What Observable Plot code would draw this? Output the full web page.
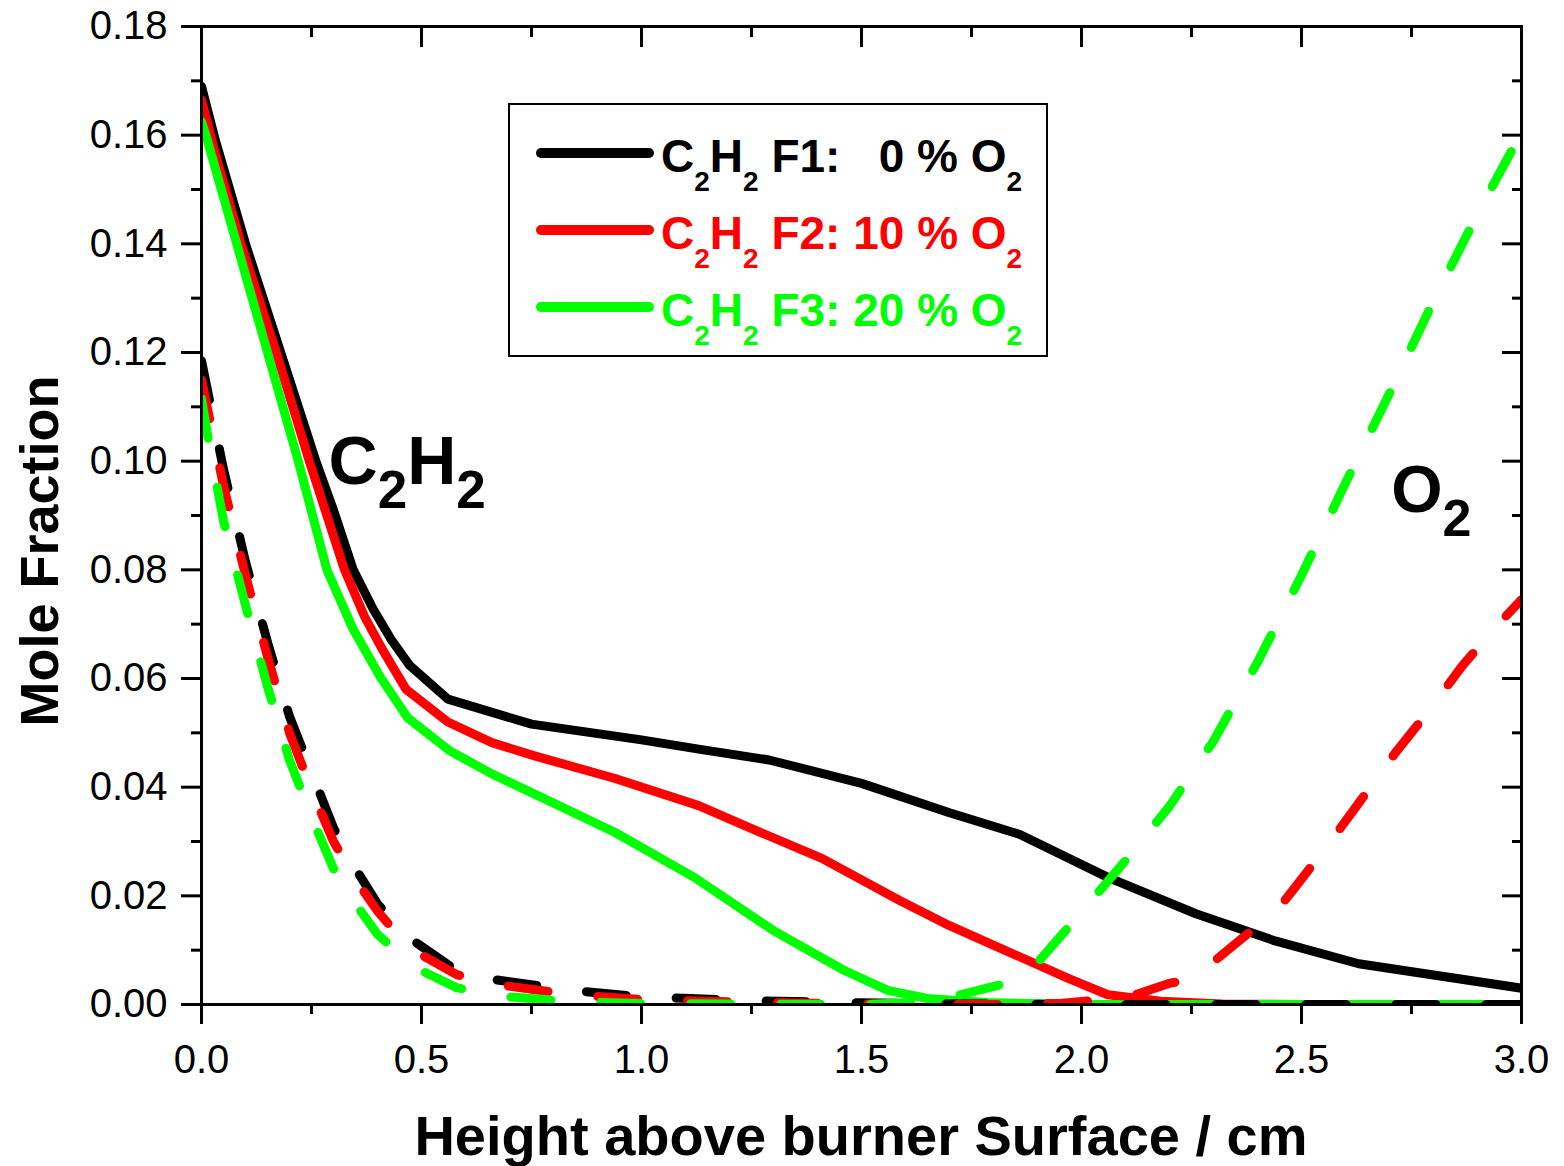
<!DOCTYPE html>
<html>
<head>
<meta charset="utf-8">
<script src="https://cdn.jsdelivr.net/npm/d3@7"></script>
<script src="https://cdn.jsdelivr.net/npm/@observablehq/plot@0.6"></script>
<style>
  html, body { margin: 0; padding: 0; background: #ffffff; }
  #chart svg { display: block; }
</style>
</head>
<body>
<div id="chart"></div>
<script>
// ---------- data: [height (cm), mole fraction] ----------
const c2h2F1 = [[0,0.169],[0.03,0.1595],[0.10,0.140],[0.18,0.120],[0.26,0.100],[0.30,0.091],[0.345,0.080],[0.39,0.0728],[0.43,0.0673],[0.473,0.0624],[0.56,0.0562],[0.75,0.0516],[1.0,0.0487],[1.13,0.0470],[1.29,0.0450],[1.5,0.0407],[1.70,0.0353],[1.86,0.0313],[2.06,0.0234],[2.26,0.0167],[2.44,0.0117],[2.63,0.0075],[3.0,0.003]];
const c2h2F2 = [[0,0.1665],[0.03,0.157],[0.09,0.140],[0.17,0.120],[0.245,0.100],[0.285,0.090],[0.325,0.080],[0.37,0.0715],[0.41,0.0655],[0.465,0.058],[0.56,0.052],[0.66,0.0482],[0.755,0.0458],[0.94,0.0416],[1.13,0.0366],[1.27,0.0317],[1.41,0.0269],[1.59,0.019],[1.69,0.0149],[1.82,0.0102],[1.97,0.0048],[2.06,0.0018],[2.18,0.0006],[2.32,0.0001],[2.5,0],[3.0,0]];
const c2h2F3 = [[0,0.1625],[0.01,0.160],[0.08,0.140],[0.15,0.120],[0.22,0.100],[0.285,0.080],[0.345,0.069],[0.407,0.0602],[0.468,0.0528],[0.564,0.0467],[0.659,0.0425],[0.755,0.0388],[0.939,0.0317],[1.12,0.0234],[1.30,0.0136],[1.46,0.0063],[1.56,0.0026],[1.65,0.0011],[1.8,0.0003],[2.0,0],[3.0,0]];
const o2F1 = [[0,0.1185],[0.05,0.0985],[0.10,0.0815],[0.15,0.0667],[0.20,0.053],[0.25,0.0428],[0.30,0.0325],[0.35,0.025],[0.40,0.0185],[0.468,0.0125],[0.573,0.0066],[0.664,0.0046],[0.84,0.0026],[1.0,0.0014],[1.25,0.0007],[1.5,0.0003],[1.75,0.0001],[2.0,0],[3.0,0]];
const o2F2 = [[0,0.115],[0.05,0.0955],[0.10,0.079],[0.15,0.064],[0.20,0.050],[0.25,0.0395],[0.30,0.030],[0.35,0.023],[0.40,0.0172],[0.47,0.0105],[0.58,0.0055],[0.66,0.0038],[0.84,0.0018],[1.0,0.0009],[1.25,0.0004],[1.5,0.0001],[1.8,0],[1.95,0.0002],[2.1,0.0012],[2.2,0.0039],[2.255,0.0048],[2.29,0.0072],[2.4,0.0145],[2.44,0.0169],[2.48,0.021],[2.566,0.030],[2.634,0.0375],[2.714,0.0464],[2.786,0.0537],[2.866,0.0624],[2.945,0.0698],[3.0,0.0745]];
const o2F3 = [[0,0.1115],[0.016,0.1038],[0.05,0.089],[0.10,0.0735],[0.15,0.0585],[0.20,0.045],[0.25,0.0345],[0.30,0.025],[0.35,0.0185],[0.40,0.0129],[0.49,0.0066],[0.58,0.0031],[0.68,0.0015],[0.85,0.0005],[1.0,0.0002],[1.2,0.0001],[1.5,0],[1.6,0.0003],[1.7,0.0013],[1.81,0.0035],[1.88,0.0057],[1.9,0.0077],[2.0,0.0170],[2.1,0.0265],[2.2,0.0365],[2.3,0.0485],[2.4,0.063],[2.5,0.079],[2.6,0.096],[2.7,0.1125],[2.8,0.1295],[2.9,0.1455],[3.0,0.1605]];

const xMajorTicks = [0, 0.5, 1.0, 1.5, 2.0, 2.5, 3.0];
const xMinorTicks = [0.25, 0.75, 1.25, 1.75, 2.25, 2.75];
const yMajorTicks = [0, 0.02, 0.04, 0.06, 0.08, 0.10, 0.12, 0.14, 0.16, 0.18];
const yMinorTicks = [0.01, 0.03, 0.05, 0.07, 0.09, 0.11, 0.13, 0.15, 0.17];

const seriesColors = ["#000000", "#ff0000", "#00ff00"];
const flameNames = [" F1:   0 % O", " F2: 10 % O", " F3: 20 % O"];
const xTitle = "Height above burner Surface / cm";
const yTitle = "Mole Fraction";
// annotation labels: text parts (sub = subscript) and anchor in data units
const annotC2H2 = {parts: [["C",0],["2",1],["H",0],["2",1]], x: 0.29, y: 0.0957};
const annotO2 = {parts: [["O",0],["2",1]], x: 2.705, y: 0.0905};

// ---------- chart ----------
const font = "'Liberation Sans', Arial, Helvetica, sans-serif";
const solidSeries = [c2h2F1, c2h2F2, c2h2F3];
const dashedSeries = [o2F1, o2F2, o2F3];

const lineMarks = [];
solidSeries.forEach((s, i) => lineMarks.push(Plot.line(s, {
  x: d => d[0], y: d => d[1], stroke: seriesColors[i], strokeWidth: 9,
  strokeLinecap: "round", strokeLinejoin: "round", clip: true
})));
dashedSeries.forEach((s, i) => lineMarks.push(Plot.line(s, {
  x: d => d[0], y: d => d[1], stroke: seriesColors[i], strokeWidth: 9,
  strokeDasharray: "40,50", strokeLinecap: "round", strokeLinejoin: "round", clip: true
})));

const blank = () => "";
const chart = Plot.plot({
  width: 1564, height: 1166,
  marginLeft: 201, marginRight: 43, marginTop: 26, marginBottom: 162,
  style: {fontFamily: font, background: "#ffffff", color: "#000000"},
  x: {domain: [0, 3]},
  y: {domain: [0, 0.18]},
  marks: [
    ...lineMarks,
    Plot.frame({strokeWidth: 3, stroke: "#000"}),
    Plot.axisX({ticks: xMajorTicks, anchor: "bottom", tickSize: 20, tickPadding: 20, tickFormat: d3.format(".1f"), fontSize: 40, strokeWidth: 3, label: null}),
    Plot.axisX({ticks: xMinorTicks, anchor: "bottom", tickSize: 10, tickFormat: blank, strokeWidth: 3, label: null}),
    Plot.axisX({ticks: xMajorTicks, anchor: "top", tickSize: 20, insetTop: 20, tickFormat: blank, strokeWidth: 3, label: null}),
    Plot.axisX({ticks: xMinorTicks, anchor: "top", tickSize: 10, insetTop: 10, tickFormat: blank, strokeWidth: 3, label: null}),
    Plot.axisY({ticks: yMajorTicks, anchor: "left", tickSize: 20, tickPadding: 14, tickFormat: d3.format(".2f"), fontSize: 40, strokeWidth: 3, label: null}),
    Plot.axisY({ticks: yMinorTicks, anchor: "left", tickSize: 10, tickFormat: blank, strokeWidth: 3, label: null}),
    Plot.axisY({ticks: yMajorTicks, anchor: "right", tickSize: 20, insetRight: 20, tickFormat: blank, strokeWidth: 3, label: null}),
    Plot.axisY({ticks: yMinorTicks, anchor: "right", tickSize: 10, insetRight: 10, tickFormat: blank, strokeWidth: 3, label: null})
  ]
});
document.getElementById("chart").appendChild(chart);

// ---------- text overlays ----------
const svg = d3.select(chart);
const sx = chart.scale("x"), sy = chart.scale("y");

function formula(parent, parts, x, y, size, subSize, subShift, fill) {
  const t = parent.append("text")
    .attr("x", x).attr("y", y).attr("fill", fill).attr("text-anchor", "start")
    .attr("font-family", font).attr("font-weight", "bold").attr("font-size", size)
    .attr("xml:space", "preserve").style("white-space", "pre");
  let shifted = false;
  for (const [s, sub] of parts) {
    const ts = t.append("tspan").text(s);
    if (sub && !shifted) { ts.attr("dy", subShift); shifted = true; }
    else if (!sub && shifted) { ts.attr("dy", -subShift); shifted = false; }
    if (sub) ts.attr("font-size", subSize);
  }
  return t;
}

// legend
const lg = svg.append("g");
lg.append("rect").attr("x", 509).attr("y", 104).attr("width", 538).attr("height", 252)
  .attr("fill", "#fff").attr("stroke", "#000").attr("stroke-width", 2);
flameNames.forEach((name, i) => {
  const cy = 153 + i * 77;
  lg.append("line").attr("x1", 541).attr("x2", 649).attr("y1", cy).attr("y2", cy)
    .attr("stroke", seriesColors[i]).attr("stroke-width", 10).attr("stroke-linecap", "round");
  formula(lg, [["C",0],["2",1],["H",0],["2",1],[name,0],["2",1]], 661, cy + 19, 46, 28, 19, seriesColors[i]);
});

// annotations
formula(svg, annotC2H2.parts, sx.apply(annotC2H2.x), sy.apply(annotC2H2.y), 68, 53, 24, "#000");
formula(svg, annotO2.parts, sx.apply(annotO2.x), sy.apply(annotO2.y), 66, 52, 24, "#000");

// axis titles
svg.append("text").attr("x", 861).attr("y", 1155).attr("text-anchor", "middle")
  .attr("font-family", font).attr("font-weight", "bold").attr("font-size", 56).attr("fill", "#000")
  .text(xTitle);
svg.append("text").attr("transform", "translate(58,551) rotate(-90)").attr("text-anchor", "middle")
  .attr("font-family", font).attr("font-weight", "bold").attr("font-size", 54).attr("fill", "#000")
  .text(yTitle);
</script>
</body>
</html>
